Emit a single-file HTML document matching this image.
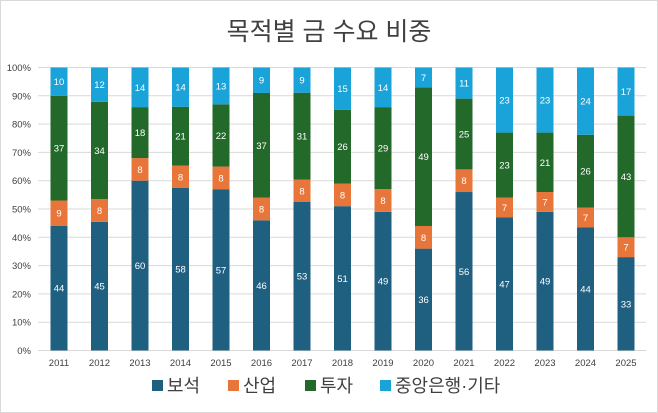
<!DOCTYPE html>
<html><head><meta charset="utf-8"><style>
body{margin:0;background:#fff;}
svg{display:block;font-family:"Liberation Sans","Noto Sans CJK KR",sans-serif;}
</style></head><body>
<svg id="chart" width="658" height="413">
<rect x="0.5" y="0.5" width="657" height="412" fill="#fff" stroke="#d9d9d9"/>
<text x="329" y="40" text-anchor="middle" font-size="25" fill="#404040">목적별 금 수요 비중</text>
<g id="grid"></g><g id="bars"></g><g id="xlab"></g>
<g id="legend"></g>
</svg>
<script>
const years=["2011","2012","2013","2014","2015","2016","2017","2018","2019","2020","2021","2022","2023","2024","2025"];
const jewelry=[44,45,60,58,57,46,53,51,49,36,56,47,49,44,33];
const industry=[9,8,8,8,8,8,8,8,8,8,8,7,7,7,7];
const investment=[37,34,18,21,22,37,31,26,29,49,25,23,21,26,43];
const other=[10,12,14,14,13,9,9,15,14,7,11,23,23,24,17];
const yTicks=[0,10,20,30,40,50,60,70,80,90,100];
const seriesNames=["보석","산업","투자","중앙은행·기타"];
const colors=["#1f5f80","#e8763a","#23692a","#1aa3d9"];
const NS="http://www.w3.org/2000/svg";
const y0=350.5,y100=67.5,xL=38,xR=646,x0=59,step=40.5,bw=17;
const yS=v=>y0-(y0-y100)*v/100;
const xS=i=>x0+i*step;
function mk(tag,attrs,parent){const e=document.createElementNS(NS,tag);for(const k in attrs)e.setAttribute(k,attrs[k]);parent.appendChild(e);return e;}
const grid=document.getElementById('grid');
yTicks.forEach(t=>{
  const l=mk('line',{x1:xL,x2:xR,y1:yS(t),y2:yS(t),stroke:"#d9d9d9","stroke-width":1},grid);
  
  
  const tx=mk('text',{x:31,y:yS(t)+3.5,"text-anchor":"end","font-size":9.5,fill:"#404040"},grid);
  tx.textContent=t+"%";
  
  
});
const bars=document.getElementById('bars'),xlab=document.getElementById('xlab');
const series=[jewelry,industry,investment,other];
years.forEach((yr,i)=>{
  const tot=series.reduce((s,a)=>s+a[i],0);
  let cum=0;
  series.forEach((arr,si)=>{
    const v=arr[i]/tot*100;
    const yt=yS(cum+v),yb=yS(cum);
    const r=mk('rect',{x:xS(i)-bw/2,y:yt,width:bw,height:yb-yt,fill:colors[si]},bars);
    
    
    const t=mk('text',{x:xS(i),y:(yt+yb)/2+3.5,"text-anchor":"middle","font-size":9.5,fill:"#fff"},bars);
    t.textContent=arr[i];
    
    
    cum+=v;
  });
  const xt=mk('text',{x:xS(i),y:366,"text-anchor":"middle","font-size":9.5,fill:"#404040"},xlab);
  xt.textContent=yr;
  
  
});
const lg=document.getElementById('legend');
const lx=[152,228,305,380];
seriesNames.forEach((n,i)=>{
  const g=mk('g',{},lg);
  
  
  mk('rect',{x:lx[i],y:380,width:11,height:11,fill:colors[i]},g);
  const t=mk('text',{x:lx[i]+15,y:392,"font-size":18,fill:"#404040"},g);
  t.textContent=n;
});
</script>
</body></html>
